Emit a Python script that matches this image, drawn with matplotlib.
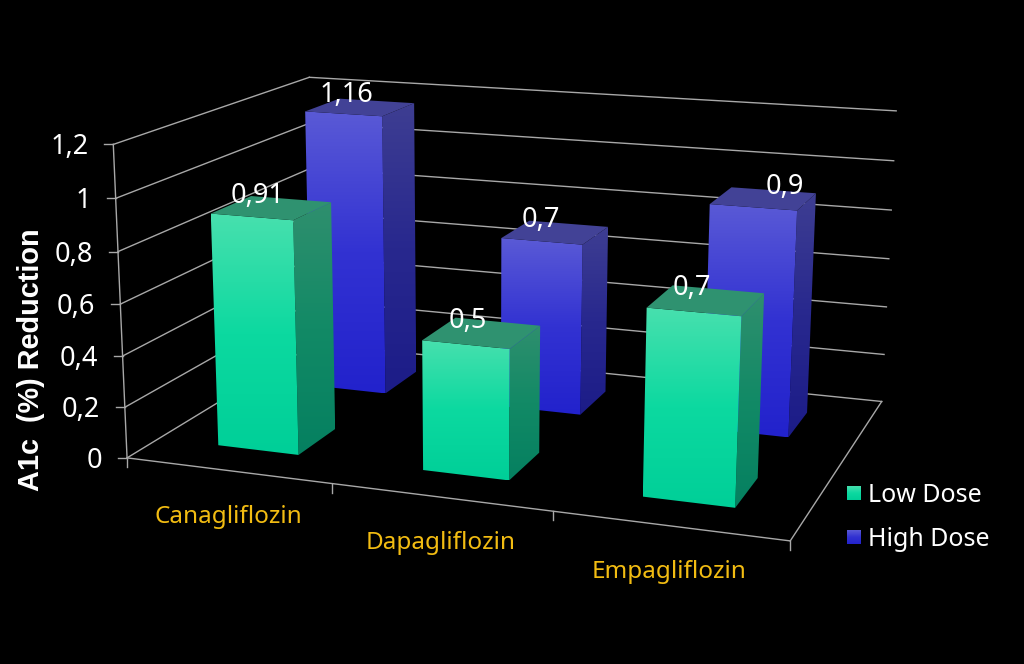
"""
 3D looking clustered bars, drawn on a plain 2D axes through a fitted camera matrix
"""
import numpy as np
import matplotlib
matplotlib.use('Agg')
import matplotlib.pyplot as plt
from matplotlib.colors import LinearSegmentedColormap
from matplotlib.patches import Polygon

categories = ['Canagliflozin', 'Dapagliflozin', 'Empagliflozin']
series_names = ['Low Dose', 'High Dose']
low_dose = [0.91, 0.5, 0.7]
high_dose = [1.16, 0.7, 0.9]
low_labels = ['0,91', '0,5', '0,7']
high_labels = ['1,16', '0,7', '0,9']
y_ticks = [0, 0.2, 0.4, 0.6, 0.8, 1, 1.2]
y_tick_labels = ['0', '0,2', '0,4', '0,6', '0,8', '1', '1,2']

FONT = 'Noto Sans'
GRID = '#a8a8a8'
BAR_LO = 0.3
BAR_HI = 0.7

LOW_STYLE = {'front': ['#48e0ae', '#0cd9a0', '#00cf98'],
             'side': ['#2f8f6e', '#128a66', '#058060'],
             'top': '#2f9270'}
HIGH_STYLE = {'front': ['#5a5ad6', '#3232d2', '#2222cc'],
              'side': ['#3e3e92', '#28288e', '#1c1c88'],
              'top': '#424296'}

# box corners (category, series, value) -> where they sit on the picture
anchors = [((0, 0, 0), (127.7, 457.7)), ((1, 0, 0), (332.3, 483)),
           ((2, 0, 0), (553, 512)), ((3, 0, 0), (790, 541)),
           ((3, 2, 0), (882, 401)), ((0, 2, 0), (314, 344)),
           ((0, 0, 1.2), (112.7, 144.3)), ((0, 2, 1.2), (310, 77.3)),
           ((3, 2, 1.2), (896, 111))]


def fitCamera(points):
    rows = []
    for (x, y, z), (u, v) in points:
        rows.append([x, y, z, 1, 0, 0, 0, 0, -u * x, -u * y, -u * z, -u])
        rows.append([0, 0, 0, 0, x, y, z, 1, -v * x, -v * y, -v * z, -v])
    _, _, vt = np.linalg.svd(np.array(rows, dtype=float))
    return vt[-1].reshape(3, 4)


camera = fitCamera(anchors)


def project(x, y, z):
    p = camera @ np.array([x, y, z, 1.0])
    return p[0] / p[2], p[1] / p[2]


def line3d(ax, a, b, **kw):
    pa, pb = project(*a), project(*b)
    ax.plot([pa[0], pb[0]], [pa[1], pb[1]], color=GRID, lw=1.0, zorder=1, **kw)


def gradientFace(ax, pts, colors, zorder):
    cmap = LinearSegmentedColormap.from_list('face', colors)
    pts = np.array(pts)
    grad = np.linspace(0, 1, 256).reshape(-1, 1)
    im = ax.imshow(grad, cmap=cmap, aspect='auto', zorder=zorder, vmin=0, vmax=1,
                   extent=(pts[:, 0].min(), pts[:, 0].max(), pts[:, 1].max(), pts[:, 1].min()))
    im.set_clip_path(Polygon(pts, transform=ax.transData))


def drawBar(ax, cat, row, value, style, zorder):
    x0, x1 = cat + BAR_LO, cat + BAR_HI
    y0, y1 = row + BAR_LO, row + BAR_HI
    front = [project(x0, y0, value), project(x1, y0, value), project(x1, y0, 0), project(x0, y0, 0)]
    side = [project(x1, y0, value), project(x1, y1, value), project(x1, y1, 0), project(x1, y0, 0)]
    top = [project(x0, y0, value), project(x1, y0, value), project(x1, y1, value), project(x0, y1, value)]
    gradientFace(ax, side, style['side'], zorder)
    gradientFace(ax, front, style['front'], zorder + 0.1)
    ax.add_patch(Polygon(top, closed=True, facecolor=style['top'], edgecolor='none', zorder=zorder + 0.2))


def drawFrame(ax):
    n = len(categories)
    for tick, label in zip(y_ticks, y_tick_labels):
        line3d(ax, (0, 0, tick), (0, 2, tick))
        line3d(ax, (0, 2, tick), (n, 2, tick))
        u, v = project(0, 0, tick)
        ax.plot([u - 9, u], [v, v], color=GRID, lw=1.0, zorder=1)
        ax.text(u - 25, v + 3, label, color='white', fontsize=19.5, family=FONT, ha='right', va='center')
    line3d(ax, (0, 0, 0), (0, 0, 1.2))
    line3d(ax, (0, 0, 0), (n, 0, 0))
    line3d(ax, (n, 0, 0), (n, 2, 0))
    for i in range(n + 1):
        u, v = project(i, 0, 0)
        ax.plot([u, u], [v, v + 9], color=GRID, lw=1.0, zorder=1)
    for i, name in enumerate(categories):
        u, v = project(i + 0.5, 0, 0)
        ax.text(u, v + 46, name, color='#f2bc12', fontsize=17.5, family=FONT, ha='center', va='center')


def drawLegend(ax):
    styles = [LOW_STYLE, HIGH_STYLE]
    for i, name in enumerate(series_names):
        top = 486 + 44 * i
        box = [(847, top), (861, top), (861, top + 14), (847, top + 14)]
        gradientFace(ax, box, styles[i]['front'], 20)
        ax.text(868, top + 10, name, color='white', fontsize=18, family=FONT, ha='left', va='center')


def drawChart():
    fig = plt.figure(figsize=(10.24, 6.64), dpi=100, facecolor='black')
    ax = fig.add_axes([0, 0, 1, 1])
    ax.set_facecolor('black')
    ax.set_axis_off()

    drawFrame(ax)

    # back row first so the low dose bars cover it
    rows = [(1, high_dose, HIGH_STYLE, high_labels), (0, low_dose, LOW_STYLE, low_labels)]
    zorder = 3
    for row, values, style, labels in rows:
        for cat, value in enumerate(values):
            drawBar(ax, cat, row, value, style, zorder)
            zorder += 1
    for row, values, style, labels in rows:
        for cat, value in enumerate(values):
            u, v = project(cat + 0.5, row + 0.5, value)
            # the last high dose label was dragged to the right in the original
            dx = 21 if labels is high_labels and cat == 2 else -14
            ax.text(u + dx, v - 12, labels[cat], color='white', fontsize=19.5, family=FONT,
                    ha='center', va='center', zorder=30)

    ax.text(31, 360, 'A1c  (%) Reduction', color='white', fontsize=20.8, family='Liberation Sans',
            weight='bold', rotation=90, ha='center', va='center')

    drawLegend(ax)
    ax.set_xlim(0, 1024)
    ax.set_ylim(664, 0)
    fig.savefig('out.png', dpi=100, facecolor='black')


if __name__ == '__main__':
    drawChart()
